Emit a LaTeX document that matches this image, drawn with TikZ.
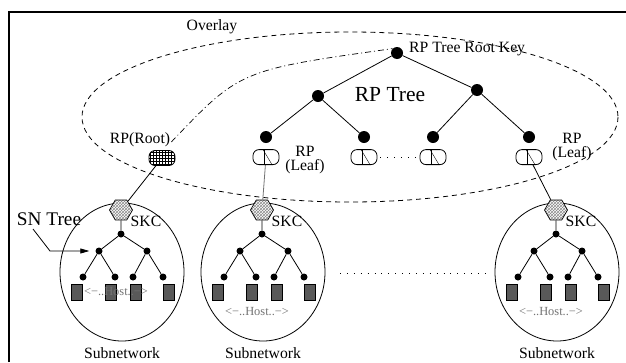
\documentclass[tikz,border=0pt]{standalone}
\usepackage{fontspec}
\setmainfont{Liberation Serif}
\usetikzlibrary{positioning,shapes.geometric,patterns,arrows.meta}

\def\lblfont{\fontsize{15.7}{14.5}\selectfont}
\def\overlay{(350,117) ellipse [x radius=268, y radius=85]}

\tikzset{
	rpdot/.style={circle,fill,inner sep=0pt,minimum size=12pt},
	sndot/.style={circle,fill,inner sep=0pt,minimum size=7pt},
	rpbox/.style={draw,rectangle,rounded corners=6pt,minimum width=26pt,minimum height=15pt,inner sep=0pt,line width=0.8pt},
	leafbox/.style={rpbox,path picture={
		\draw[line width=0.6pt] ([xshift=-1.5pt]path picture bounding box.north) -- ([xshift=-1.5pt]path picture bounding box.south);
		\draw[line width=0.4pt] ([xshift=-3pt]path picture bounding box.north) -- ([xshift=6pt]path picture bounding box.south);}},
	rootbox/.style={rpbox,preaction={fill=white},pattern=grid},
	skc/.style={draw,regular polygon,regular polygon sides=6,minimum size=23pt,inner sep=0pt,line width=0.7pt,preaction={fill=white},pattern=crosshatch,pattern color=black!45},
	host/.style={draw,fill=black!65,minimum width=11pt,minimum height=16pt,inner sep=0pt,line width=0.6pt},
	lbl/.style={inner sep=0pt,font=\lblfont,align=center},
	hostlbl/.style={inner sep=0pt,font=\fontsize{12.4}{14}\selectfont,text=black!55},
	overlayline/.style={line width=0.8pt,dash pattern=on 5pt off 4pt},
	keyline/.style={line width=0.7pt,dash pattern=on 6pt off 3pt on 1pt off 3pt},
	dotline/.style={line width=0.9pt,dash pattern=on 0.9pt off 6pt},
}

\newcommand{\subnet}[3]{%
	\draw[line width=0.8pt] ({#2+1},272) ellipse [x radius=62, y radius=69];
	\node[skc] (#1h) at (#2,210) {};
	\node[lbl] at ({#2+25},221) {SKC};
	\node[sndot] (#1t) at (#2,234) {};
	\node[sndot] (#1a) at ({#2-22},251) {};
	\node[sndot] (#1b) at ({#2+26},251) {};
	\foreach \i/\dx in {1/-38,2/-6,3/12,4/42}
		\node[sndot] (#1l\i) at ({#2+(\dx)},277) {};
	\foreach \i/\dx in {1/-44,2/-10,3/15,4/48}
		\node[host] (#1s\i) at ({#2+(\dx)},292) {};
	\draw[line width=0.8pt] (#1h) -- (#1t) (#1t) -- (#1a) (#1t) -- (#1b)
		(#1a) -- (#1l1) (#1a) -- (#1l2) (#1b) -- (#1l3) (#1b) -- (#1l4);
	\node[hostlbl] at ({#2-5},#3) {<−..Host..−>};
	\node[lbl] at ({#2+1},353) {Subnetwork};
}

\begin{document}
\begin{tikzpicture}[x=1pt,y=-1pt]
	
	\useasboundingbox (0,0) rectangle (626,362);
	\draw[line width=2.4pt] (9,362) -- (9,12) -- (626,12);
	
	\draw[overlayline] \overlay;
	\node[lbl] (overlaylbl) at (212,27) {Overlay};
	
	\node[rpdot] (root) at (397,53) {};
	\node[rpdot] (l1a) at (318,96) {};
	\node[rpdot] (l1b) at (477,90) {};
	\node[rpdot] (l2a) at (266,137) {};
	\node[rpdot] (l2b) at (364,137) {};
	\node[rpdot] (l2c) at (433,137) {};
	\node[rpdot] (l2d) at (529,137) {};
	\draw[line width=0.8pt] (root) -- (l1a) (root) -- (l1b)
		(l1a) -- (l2a) (l1a) -- (l2b) (l1b) -- (l2c) (l1b) -- (l2d);
	\node[leafbox, below=6pt of l2a] (leaf1) {};
	\node[leafbox, below=6pt of l2b] (leaf2) {};
	\node[leafbox, below=6pt of l2c] (leaf3) {};
	\node[leafbox, below=6pt of l2d] (leaf4) {};
	\draw[dotline, shorten <=3pt, shorten >=3pt] (leaf2) -- (leaf3);
	\node[rootbox] (rproot) at (162,158) {};
	
	\node[lbl, anchor=west] (rootkey) at (409,49) {RP Tree Root Key};
	\node[lbl, font=\fontsize{21.5}{22}\selectfont] (rptree) at (390,95) {RP Tree};
	\node[lbl] (rprootlbl) at (140,140) {RP(Root)};
	\node[lbl] (leaf1lbl) at (305,160) {RP\\(Leaf)};
	\node[lbl] (leaf4lbl) at (572,147) {RP\\(Leaf)};
	\draw[keyline] ([shift={(1pt,-2pt)}]rprootlbl.east) .. controls (240,70) .. (root.north west);
	
	\subnet{snA}{121}{292}
	\subnet{snB}{262}{312}
	\subnet{snC}{556}{312}
	
	\draw[line width=0.8pt] (rproot) -- (snAh);
	\draw[line width=0.8pt, black!55] (leaf1) -- (snBh);
	\draw[line width=0.8pt] (leaf4) -- (snCh);
	\draw[dotline] (340,273) -- (487,273);
	
	\node[lbl, font=\fontsize{19.3}{20}\selectfont] (sntree) at (49,219) {SN Tree};
	\coordinate (snstart) at (33,229);
	\draw[line width=0.8pt, -{Triangle[length=9pt,width=5pt]}] (snstart) -- (50,251) -- ([xshift=-6pt]snAa.west);
	
\end{tikzpicture}
\end{document}
